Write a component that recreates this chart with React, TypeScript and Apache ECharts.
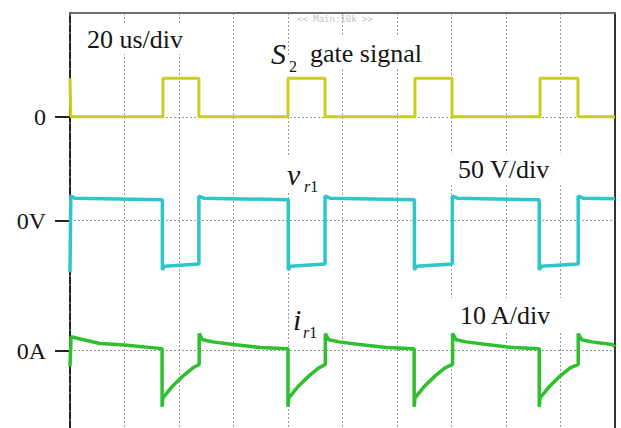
import React, { useEffect, useRef } from "react";
import * as echarts from "echarts";

// time axis: microseconds (20 us/div), vertical axis: screen divisions
const X_MIN = 0;
const X_MAX = 200;
const X_STEP = 20;
const Y_MIN = 0;
const Y_MAX = 8;
const Y_STEP = 1;

// reference markers on the left edge
const markerValues = [6.0, 4.0, 1.49];
const markerLabels = ["0", "0V", "0A"];

// S2 gate signal (yellow)
const gateRiseUs = [34.1, 80.0, 126.6, 172.5];
const gateFallUs = [47.3, 93.6, 140.2, 186.4];
const gateLowDiv = 6.0;
const gateHighDiv = 6.74;

// v_r1 (cyan)
const vrFallUs = [33.9, 80.1, 126.4, 172.2];
const vrRiseUs = [47.3, 93.6, 140.3, 186.5];
const vrHighStartDiv = 4.47;
const vrHighSettleDiv = 4.43;
const vrHighEndDiv = 4.4;
const vrLowStartDiv = 3.05;
const vrLowSettleDiv = 3.12;
const vrLowEndDiv = 3.16;
const vrInitialDiv = 3.0;
const vrEndDiv = 4.42;

// i_r1 (green)
const irFallUs = [33.8, 80.0, 126.3, 172.2];
const irRiseUs = [47.4, 93.7, 140.4, 186.5];
const irStartUs = [0, 0.4, 5, 11, 20];
const irStartDiv = [1.19, 1.76, 1.7, 1.63, 1.6];
const irDipOffsetUs = [0, 0.3, 3.9, 7.6, 11.2];
const irDipDiv = [0.41, 0.58, 0.81, 1.0, 1.155];
const irPreJumpDiv = 1.225;
const irHighOffsetUs = [0, 1.3, 5, 12.5, 22.4];
const irHighDiv = [1.82, 1.7, 1.66, 1.61, 1.55];
const irPreFallDiv = 1.53;
const irEndDiv = 1.57;

function buildGate(): number[][] {
  const pts: number[][] = [
    [0, gateHighDiv],
    [0.3, gateLowDiv],
  ];
  gateRiseUs.forEach((r, i) => {
    pts.push([r, gateLowDiv], [r, gateHighDiv], [gateFallUs[i], gateHighDiv], [gateFallUs[i], gateLowDiv]);
  });
  pts.push([X_MAX, gateLowDiv]);
  return pts;
}

function buildVr(): number[][] {
  const pts: number[][] = [
    [0, vrInitialDiv],
    [0.3, vrHighStartDiv],
    [1.8, vrHighSettleDiv],
  ];
  vrFallUs.forEach((f, i) => {
    const r = vrRiseUs[i];
    pts.push(
      [f, vrHighEndDiv],
      [f, vrLowStartDiv],
      [f + 0.8, vrLowSettleDiv],
      [r, vrLowEndDiv],
      [r, vrHighStartDiv],
      [r + 1.8, vrHighSettleDiv]
    );
  });
  pts.push([X_MAX, vrEndDiv]);
  return pts;
}

function buildIr(): number[][] {
  const pts: number[][] = irStartUs.map((t, i) => [t, irStartDiv[i]]);
  irFallUs.forEach((f, i) => {
    const r = irRiseUs[i];
    pts.push([f, irPreFallDiv]);
    irDipOffsetUs.forEach((o, k) => pts.push([f + o, irDipDiv[k]]));
    pts.push([r, irPreJumpDiv]);
    irHighOffsetUs.forEach((o, k) => {
      if (r + o < X_MAX) pts.push([r + o, irHighDiv[k]]);
    });
  });
  pts.push([X_MAX, irEndDiv]);
  return pts;
}

const SERIF = '"Liberation Serif", "Times New Roman", serif';

function label(x: number, y: number, text: string, size: number, opts: any = {}) {
  return {
    type: "text",
    x,
    y,
    z: 100,
    silent: true,
    style: {
      text,
      fontSize: size,
      fontFamily: SERIF,
      fontStyle: opts.italic ? "italic" : "normal",
      fill: "#151515",
      align: "left",
      verticalAlign: "middle",
      backgroundColor: "#ffffff",
      padding: opts.padding || [0, 0],
      rich: opts.rich,
    },
  };
}

const subRich = {
  a: { fontSize: 16, fontFamily: SERIF, fontStyle: "italic", fill: "#151515" },
  b: { fontSize: 16, fontFamily: SERIF, fill: "#151515" },
};

export default function App() {
  const ref = useRef<HTMLDivElement>(null);

  useEffect(() => {
    if (!ref.current) return;
    const chart = echarts.init(ref.current, undefined, { renderer: "svg" });
    const gridDots = { color: "#9a9a9a", width: 1, type: [2, 2] as any };
    chart.setOption({
      animation: false,
      backgroundColor: "#ffffff",
      grid: { left: 70, right: 6, top: 13, bottom: -4, containLabel: false },
      xAxis: {
        type: "value",
        position: "top",
        min: X_MIN,
        max: X_MAX,
        interval: X_STEP,
        axisLine: { show: true, onZero: false, lineStyle: { color: "#6e6e6e", width: 2 } },
        axisTick: { show: false },
        axisLabel: { show: false },
        splitLine: { show: true, lineStyle: gridDots },
      },
      yAxis: [
        {
          type: "value",
          position: "left",
          min: Y_MIN,
          max: Y_MAX,
          interval: Y_STEP,
          axisLine: { show: true, onZero: false, lineStyle: { color: "#222", width: 2, type: [7, 2] as any } },
          axisTick: {
            show: true,
            customValues: markerValues,
            length: 15,
            lineStyle: { color: "#222", width: 2 },
          },
          axisLabel: {
            show: true,
            customValues: markerValues,
            margin: 24,
            fontSize: 24,
            fontFamily: SERIF,
            color: "#151515",
            formatter: (v: number) => {
              const idx = markerValues.findIndex((m) => Math.abs(m - v) < 1e-6);
              return idx >= 0 ? markerLabels[idx] : "";
            },
          },
          splitLine: { show: true, lineStyle: gridDots },
        },
        {
          type: "value",
          position: "right",
          min: Y_MIN,
          max: Y_MAX,
          interval: Y_STEP,
          axisLine: { show: true, onZero: false, lineStyle: { color: "#333", width: 2 } },
          axisTick: { show: false },
          axisLabel: { show: false },
          splitLine: { show: false },
        },
      ],
      series: [
        {
          name: "S2 gate signal",
          type: "line",
          data: buildGate(),
          showSymbol: false,
          silent: true,
          lineStyle: { color: "#cccc22", width: 3 },
          z: 3,
        },
        {
          name: "v_r1",
          type: "line",
          data: buildVr(),
          showSymbol: false,
          silent: true,
          lineStyle: { color: "#2ec6c8", width: 3.5 },
          z: 3,
        },
        {
          name: "i_r1",
          type: "line",
          data: buildIr(),
          showSymbol: false,
          silent: true,
          lineStyle: { color: "#2ec02e", width: 3.5 },
          z: 3,
        },
      ],
      graphic: [
        {
          type: "text",
          x: 297,
          y: 18.5,
          z: 100,
          silent: true,
          style: {
            text: "<< Main:10k >>",
            fontSize: 9,
            fontFamily: '"DejaVu Sans Mono", monospace',
            fill: "#c4c4c4",
            align: "left",
            verticalAlign: "middle",
          },
        },
        label(83, 39, "20 us/div", 26, { padding: [2, 4] }),
        label(270, 53, "S", 30, { italic: true, padding: [2, 1] }),
        label(288, 66, "2", 16, { padding: [1, 1] }),
        label(296, 53, "gate signal", 26, { padding: [3, 12, 3, 14] }),
        label(286, 174, "v", 30, { italic: true, padding: [2, 1] }),
        label(302, 186, "{a|r}{b|1}", 16, { rich: subRich, padding: [1, 2] }),
        label(448, 169.5, "50 V/div", 26, { padding: [3, 12, 3, 10] }),
        label(291, 319, "i", 30, { italic: true, padding: [2, 2] }),
        label(301, 332, "{a|r}{b|1}", 16, { rich: subRich, padding: [1, 2] }),
        label(448, 315, "10 A/div", 26, { padding: [4, 14, 4, 12] }),
      ],
    });
    return () => chart.dispose();
  }, []);

  return (
    <div
      ref={ref}
      style={{ position: "fixed", left: 0, top: 0, width: 621, height: 428, background: "#fff" }}
    />
  );
}
